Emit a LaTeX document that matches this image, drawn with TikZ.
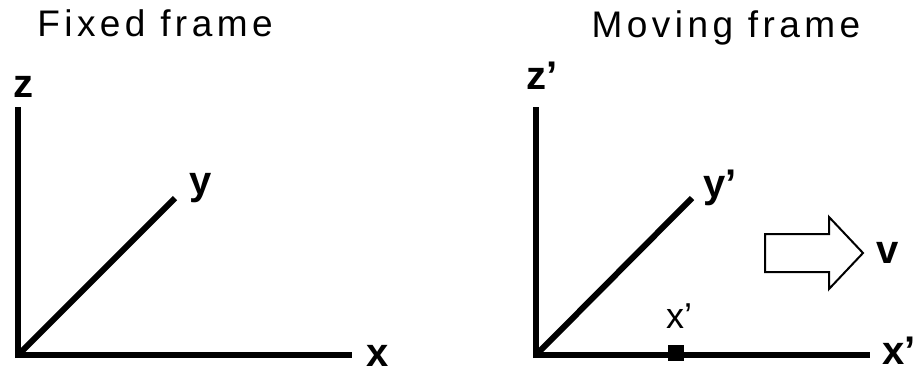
\documentclass[tikz,border=0pt]{standalone}
\usepackage{fontspec}
\setmainfont{Liberation Sans}
\newfontfamily\titlefont[LetterSpace=12]{Liberation Sans}
\begin{document}
\begin{tikzpicture}[x=1pt,y=-1pt,
  axis/.style={line width=6pt},
  title/.style={font=\titlefont\fontsize{37}{39}\selectfont, inner sep=0pt, anchor=base},
  alabel/.style={font=\bfseries\fontsize{40}{42}\selectfont, inner sep=0pt, anchor=base west},
  slabel/.style={font=\fontsize{36}{38}\selectfont, inner sep=0pt, anchor=base west},
  marker/.style={fill=black, minimum size=16pt, inner sep=0pt},
  bigarrow/.style={line width=2pt, fill=white}]
\useasboundingbox (0,0) rectangle (917,373);
% titles
\node[title] (t1) at (155,36) {Fixed frame};
\node[title] (t2) at (726,37) {Moving frame};
% fixed frame
\coordinate (o1) at (18,355);
\coordinate (z1) at (18,107);
\coordinate (x1) at (352,355);
\coordinate (y1) at (175,198);
\draw[axis] (18,358) -- (z1);
\draw[axis] (15,355) -- (x1);
\draw[axis] (o1) -- (y1);
\node[alabel] (lz1) at (13,97) {z};
\node[alabel] (ly1) at (189,194) {y};
\node[alabel] (lx1) at (366,366) {x};
% moving frame
\coordinate (o2) at (536,355);
\coordinate (z2) at (536,107);
\coordinate (x2) at (870,355);
\coordinate (y2) at (692,198);
\draw[axis] (536,358) -- (z2);
\draw[axis] (533,355) -- (x2);
\draw[axis] (o2) -- (y2);
\node[alabel] (lz2) at (526,89) {z'};
\node[alabel] (ly2) at (703,197) {y'};
\node[alabel] (lx2) at (882,364) {x'};
\node[marker] (m) at (676,353) {};
\node[slabel] (lm) at (666,328) {x'};
% velocity arrow
\draw[bigarrow] (765,234) -- (829,234) -- (829,217) -- (863,253) -- (829,289) -- (829,272) -- (765,272) -- cycle;
\node[alabel] (lv) at (876,263) {v};
\end{tikzpicture}
\end{document}
